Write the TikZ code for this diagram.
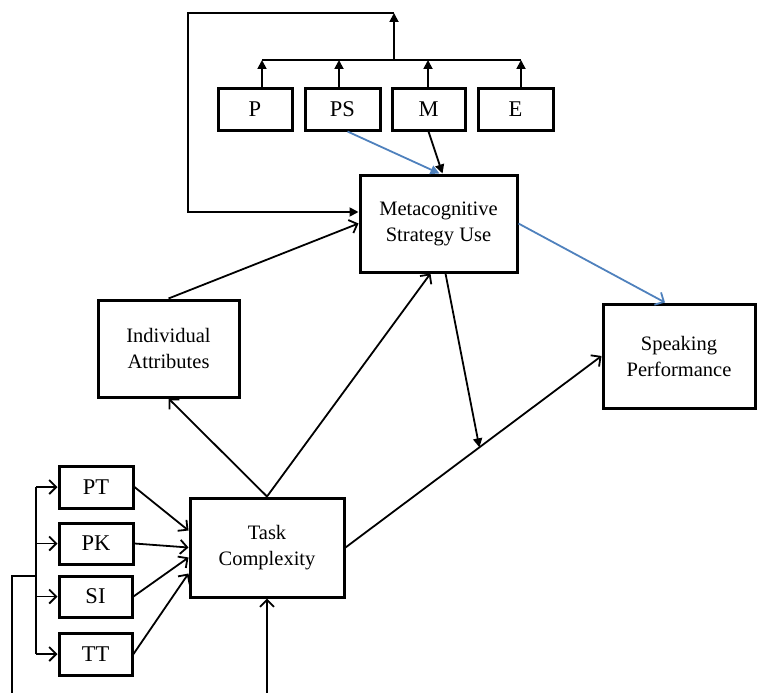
\documentclass[tikz,border=0pt]{standalone}
\usepackage{fontspec}
\setmainfont{Liberation Serif}
\usetikzlibrary{arrows.meta,calc}
\definecolor{linkblue}{RGB}{79,129,189}
\begin{document}
\begin{tikzpicture}[x=1pt,y=-1pt,
  box/.style={draw,line width=3pt,rectangle,inner sep=0pt,align=center},
  bigbox/.style={box,font=\fontsize{20.5}{26}\selectfont},
  smallbox/.style={box,minimum height=41pt,font=\fontsize{22.5}{26}\selectfont},
  link/.style={line width=1.8pt},
  opentip/.style={link,-{Straight Barb[length=7pt,width=14pt,line width=1.8pt]}},
  filltip/.style={link,-{Triangle[length=9pt,width=9pt]}}]
\useasboundingbox (0,0) rectangle (758,693);

% strategy components
\node[smallbox,minimum width=74pt] (P)  at (255,109.5) {P};
\node[smallbox,minimum width=75pt] (PS) at (342.5,109.5) {PS};
\node[smallbox,minimum width=73pt] (M)  at (428.5,109.5) {M};
\node[smallbox,minimum width=75pt] (E)  at (515.5,109.5) {E};

% main constructs
\node[bigbox,minimum width=157pt,minimum height=97pt] (Meta) at (438.5,223.5) {Metacognitive\\Strategy Use};
\node[bigbox,minimum width=152pt,minimum height=104pt] (SP) at (679,356) {Speaking\\Performance};
\node[bigbox,minimum width=141pt,minimum height=97pt] (IA) at (168.5,348.5) {Individual\\Attributes};
\node[bigbox,minimum width=154pt,minimum height=99pt] (TC) at (267,547.5) {Task\\Complexity};

% task factors
\node[smallbox,minimum width=74pt,minimum height=42pt] (PT) at (96,487) {PT};
\node[smallbox,minimum width=74pt] (PK) at (96,543.5) {PK};
\node[smallbox,minimum width=73pt] (SI) at (95.5,596.5) {SI};
\node[smallbox,minimum width=73pt,minimum height=42pt] (TT) at (95.5,654) {TT};

% collector bar above the components and feedback loop
\coordinate (barL) at (262,60);
\coordinate (barR) at (521,60);
\coordinate (join) at (394,60);
\coordinate (top) at (394,13);
\coordinate (loopTL) at (188,13);
\coordinate (loopBL) at (188,212);
\draw[link] (barL) -- (barR);
\draw[filltip] (P.north -| barL) -- (barL);
\draw[filltip] (PS.north -| 339,0) -- (339,60);
\draw[filltip] (M.north -| 428,0) -- (428,60);
\draw[filltip] (E.north -| barR) -- (barR);
\draw[filltip] (join) -- (top);
\draw[filltip] (top) -- (loopTL) -- (loopBL) -- (loopBL -| Meta.west);

% components into strategy use
\draw[filltip,linkblue] ([xshift=5pt]PS.south) -- ([xshift=1pt]Meta.north);
\draw[filltip] (M.south) -- ([xshift=4pt]Meta.north);

% paths between constructs
\draw[opentip] (IA.north) -- (Meta.west);
\draw[opentip,linkblue] (Meta.east) -- ([xshift=-14pt]SP.north);
\draw[opentip] (TC.north) -- (IA.south);
\draw[opentip] (TC.north) -- ([xshift=-8pt]Meta.south);
\draw[opentip] (TC.east) -- (SP.west);
\coordinate (mod) at ($(TC.east)!0.523!(SP.west)$);
\draw[filltip] ([xshift=7pt]Meta.south) -- (mod);

% task factors into task complexity
\draw[opentip] (PT.east) -- ([yshift=17pt]TC.west);
\draw[opentip] (PK.east) -- (TC.west);
\draw[opentip] (SI.east) -- ([yshift=-10pt]TC.west);
\draw[opentip] (TT.east) -- ([yshift=-26pt]TC.west);

% input bus on the left
\coordinate (busT) at (36,487);
\coordinate (busB) at (36,654);
\coordinate (busIn) at (36,576);
\coordinate (feedIn) at (12,693);
\coordinate (bottomIn) at (267,693);
\draw[link] (busT) -- (busB);
\draw[link] (feedIn) |- (busIn);
\draw[opentip] (busT) -- (PT.west);
\draw[opentip] (PK.west -| busT) -- (PK.west);
\draw[opentip] (SI.west -| busT) -- (SI.west);
\draw[opentip] (busB) -- (TT.west);
\draw[opentip] (bottomIn) -- (TC.south);
\end{tikzpicture}
\end{document}
